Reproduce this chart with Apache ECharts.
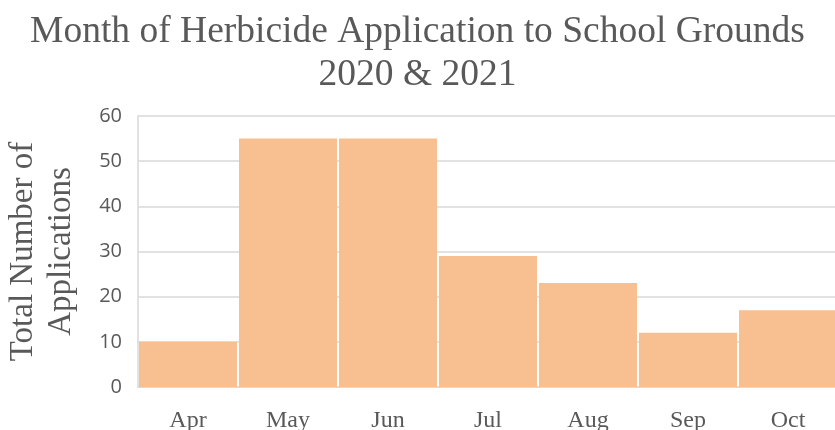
<!DOCTYPE html>
<html>
<head>
<meta charset="utf-8">
<style>html,body{margin:0;padding:0;background:#fff}#chart{width:835px;height:430px}</style>
<script src="https://cdn.jsdelivr.net/npm/echarts@6/dist/echarts.min.js"></script>
</head>
<body>
<div id="chart"></div>
<script>
// Herbicide applications per month, 2020 & 2021 combined
const months = ['Apr', 'May', 'Jun', 'Jul', 'Aug', 'Sep', 'Oct'];
const applications = [10, 55, 55, 29, 23, 12, 17];
const yTicks = [0, 10, 20, 30, 40, 50, 60];

const chart = echarts.init(document.getElementById('chart'));
const serif = '"Liberation Serif", "DejaVu Serif", serif';
const grey = '#595959';

chart.setOption({
  animation: false,
  title: {
    text: 'Month of Herbicide Application to School Grounds\n2020 & 2021',
    left: 'center',
    top: 6,
    textStyle: { fontFamily: serif, fontSize: 37.5, fontWeight: 'normal', color: grey, lineHeight: 43 }
  },
  // the plot runs slightly past the right edge of the canvas, so keep it unclamped
  grid: { left: 138, top: 116, width: 700, height: 271, outerBoundsMode: 'none', containLabel: false },
  xAxis: {
    type: 'category',
    data: months,
    axisLine: { lineStyle: { color: '#d9d9d9', width: 1.5 } },
    axisTick: { show: false },
    axisLabel: { fontFamily: serif, fontSize: 24, color: grey, margin: 22 }
  },
  yAxis: {
    type: 'value',
    min: yTicks[0],
    max: yTicks[yTicks.length - 1],
    interval: yTicks[1] - yTicks[0],
    name: 'Total Number of\nApplications',
    nameLocation: 'middle',
    nameGap: 58,
    nameTextStyle: { fontFamily: serif, fontSize: 33, color: grey, lineHeight: 38 },
    axisLine: { show: true, lineStyle: { color: '#d9d9d9', width: 1.5 } },
    axisTick: { show: false },
    splitLine: { lineStyle: { color: '#d9d9d9', width: 1.5 } },
    axisLabel: { fontFamily: '"Open Sans", "Liberation Sans", sans-serif', fontSize: 20, color: grey, margin: 16 }
  },
  series: [{
    type: 'bar',
    data: applications,
    barCategoryGap: '2%',
    itemStyle: { color: '#F8C090' }
  }]
});
</script>
</body>
</html>
